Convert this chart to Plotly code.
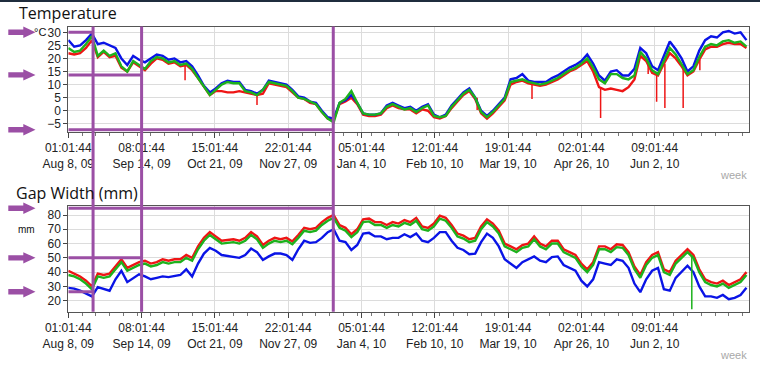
import plotly.graph_objects as go
import pandas as pd

# ---------------- data ----------------
START = pd.Timestamp("2009-08-08 01:01:44")
STEP_DAYS = 3            # sampling step of the value arrays below
END_DAYS = 346.45        # right end of the time axis
TICK_HOURS = 895         # spacing of labelled ticks

tick_labels = ["01:01:44<br>Aug 8, 09", "08:01:44<br>Sep 14, 09", "15:01:44<br>Oct 21, 09",
               "22:01:44<br>Nov 27, 09", "05:01:44<br>Jan 4, 10", "12:01:44<br>Feb 10, 10",
               "19:01:44<br>Mar 19, 10", "02:01:44<br>Apr 26, 10", "09:01:44<br>Jun 2, 10"]

temp_blue = [27, 24.5, 25, 27, 29.5, 25.5, 26, 25, 24, 20,
             17.5, 21, 19.5, 18.5, 20, 21.5, 21, 19.5, 20, 18.5,
             19, 17, 13.5, 9.5, 7, 8.5, 10.5, 11.5, 11, 11,
             8, 7.5, 6.5, 8, 11.5, 11, 10.5, 10, 8, 5.5,
             5, 3.5, 3, 0, -2.5, -3, 3, 4, 6, 3,
             -1, -1.5, -1.5, -1, 2, 3, 2, 1, 1.5, 0,
             1.5, 2.5, -1.5, -2.5, -1.5, 2, 4.5, 7, 8.5, 5,
             0, -2, 0, 2.5, 5, 12, 12.5, 14, 11.5, 11,
             11, 11, 12.5, 13.5, 15, 16.5, 17.5, 19, 21.5, 18,
             13.5, 11.5, 15, 15.5, 13.5, 13.5, 16, 24, 22, 17,
             15.5, 21, 26.5, 23.5, 20, 15, 17, 23, 27, 28.5,
             28, 30, 30.5, 29.5, 30, 27]
temp_green = [24, 22.5, 23, 25.5, 28.5, 21, 23, 21, 22, 17,
              15, 19, 17.5, 16, 19, 20.5, 20, 18.5, 19, 17.5,
              18, 16, 12.5, 9, 6, 8, 10, 11, 10.5, 10.5,
              7.5, 7, 6, 8, 11, 10.5, 10, 9.5, 7.5, 5,
              4.5, 3.5, 2.5, -0.5, -3, -4.5, 3, 4.5, 7.5, 3,
              -1, -1.5, -1.5, -1, 1.5, 2.5, 1.5, 0.5, 1, -0.5,
              1, 2, -2, -2.5, -2, 1.5, 4, 6.5, 8, 5,
              -0.5, -2.5, -0.5, 2, 4.5, 11, 11.5, 12, 11, 10.5,
              10, 10.5, 11.5, 12.5, 14, 15.5, 16.5, 18, 20, 16.5,
              12, 10.5, 14, 14, 12.5, 12, 13.5, 22.5, 20, 15.5,
              14, 19, 24, 21.5, 18, 14, 15.5, 20.5, 24.5, 25.5,
              25, 26.5, 27, 26, 26.5, 24.5]
temp_red = [22, 21.5, 22, 24, 27, 20.5, 22.5, 20.5, 21, 16.5,
            15, 18.5, 17, 15.5, 18, 20, 19.5, 18, 18.5, 17,
            17.5, 15.5, 12.5, 9, 6, 7.5, 7.5, 7, 7, 7.5,
            7, 6.5, 6, 6.5, 10.5, 10, 9.5, 9, 7, 5,
            4.5, 3, 2.5, -0.5, -3, -3.5, 2.5, 3.5, 5, 2.5,
            -1.5, -2, -2, -1.5, 1, 2, 1, 0.5, 0.5, -1,
            0.5, 0, -2.5, -3, -2, 1, 3.5, 6, 7.5, 4.5,
            -1, -3, -1, 1.5, 4, 10, 11, 11.5, 10.5, 10,
            9.5, 10, 11, 12, 13.5, 15, 16, 17.5, 19, 15,
            9, 8, 8.5, 8, 7.5, 9, 12, 21, 19, 14.5,
            13.5, 18, 22, 20, 17, 13.5, 15, 19.5, 23.5, 24.5,
            24.5, 25.5, 26, 25.5, 25.5, 24]
# short downward drops of the red temperature series
temp_red_spike_days = [59.4, 96.0, 208.0, 235.9, 270.8, 295.0, 299.3, 303.5, 312.8, 321.3]
temp_red_spike_top = [18, 6, 5, 10.5, 9, 19, 14, 18, 18, 19.5]
temp_red_spike_low = [11.7, 2.2, 0.3, 4.5, -2.8, 14, 3.4, 1.0, 1.0, 15.5]

gap_green = [38, 37, 35, 32, 28, 37, 36, 37, 42, 47,
             41, 43, 45, 46, 44, 45, 47, 46, 47, 47,
             50, 48, 56, 62, 66, 63, 60, 60.5, 61, 60,
             62, 66, 63, 57, 60, 62, 61, 62, 59.5, 64,
             69, 68, 69, 73, 76, 78, 71, 69, 64.5, 68,
             75, 75.5, 73, 73, 71, 73, 72, 74.5, 73, 76,
             70, 69, 72, 77.5, 76, 71, 65, 63.5, 61, 62,
             70, 75, 72, 67, 58, 56, 54, 57, 58, 63,
             58, 56, 60, 60, 54, 52, 50, 44, 40, 45,
             56, 56, 54, 57.5, 57, 52, 42, 36, 45, 50,
             52, 40, 38, 46, 50, 54, 50, 40, 33, 31,
             30, 32, 29, 31, 33, 38]
gap_blue = [29, 28.5, 27, 25, 23, 29.5, 28, 27, 35, 41,
            33, 36, 38.5, 37, 35, 36, 37, 36.5, 37, 38,
            42, 37, 46, 53, 57, 55, 52, 51.5, 51, 50,
            52, 56.5, 54, 48.5, 51, 53, 53, 52, 48.5, 56,
            62, 60.5, 61, 64, 68, 70, 62, 61, 55.5, 59,
            67, 67.5, 65, 65, 63, 64, 64, 66.5, 64.5, 67,
            62, 61, 64, 68, 68, 62, 57, 55.5, 52.5, 53,
            61, 67, 64, 58, 49, 46, 43, 47, 49, 51,
            48, 47, 50.5, 51, 45, 43, 41, 34, 30, 35,
            47, 46, 45, 49, 48, 43, 32, 26, 35, 41,
            43, 28, 27, 36, 40, 44.5, 40, 30, 23, 23,
            22, 24, 21, 22, 24, 29]
gap_red = [41, 39, 37, 34, 30, 39, 38, 39, 44, 49,
           43, 45, 47, 48, 46, 47, 49, 48, 49, 49,
           52, 50, 58, 64, 68, 65, 62, 62.5, 63, 62,
           64, 68, 65, 59, 62, 64, 63, 64, 61.5, 66,
           71, 70, 71, 75, 78, 80, 73, 71, 66.5, 70,
           77, 77.5, 75, 75, 73, 75, 74, 76.5, 75, 78,
           72, 71, 74, 79.5, 78, 73, 67, 65.5, 63, 64,
           72, 77, 74, 69, 60, 58, 56, 59, 60, 65,
           60, 58, 62, 62, 56, 54, 52, 46, 42, 47,
           58, 58, 56, 59.5, 59, 54, 44, 38, 47, 52,
           54, 42, 40, 48, 52, 56, 52, 42, 35, 33,
           32, 34, 31, 33, 35, 40]
gap_green_spike_day = [317.2]
gap_green_spike_top = [52]
gap_green_spike_low = [14]

# purple markers (days after start, and levels)
marker_days = [12.6, 37.2917, 134.8]
temp_marker_levels = [30, 13.7, -7.3]     # matched to marker_days in order
gap_marker_levels = [26.3, 50, 84.7]

# ---------------- helpers ----------------
W, H = 760, 367
X0_PX, X1_PX = 68.3, 749.3
TOP_PX = (26.5, 131.7)
BOT_PX = (206.0, 311.7)
TEMP_RANGE = [-8.03, 32.22]
GAP_RANGE = [12.3, 86.3]


def day(d):
    return START + pd.Timedelta(days=d)


def py(v, rng, px):
    top, bot = px
    return top + (rng[1] - v) / (rng[1] - rng[0]) * (bot - top)


grid = [day(k * STEP_DAYS) for k in range(len(temp_blue))]
BLUE, RED, GREEN = "#0a14e6", "#ee1515", "#1db21d"
PURPLE = "#9b4fa5"

fig = go.Figure()


def add_series(xa, ya, vals, color, width=2.4):
    fig.add_trace(go.Scatter(x=grid, y=vals, mode="lines", xaxis=xa, yaxis=ya,
                             line=dict(color=color, width=width), hoverinfo="skip",
                             showlegend=False))


def add_spikes(xa, ya, days, tops, lows, color):
    xs, ys = [], []
    for d, t, l in zip(days, tops, lows):
        xs += [day(d), day(d), None]
        ys += [t, l, None]
    fig.add_trace(go.Scatter(x=xs, y=ys, mode="lines", xaxis=xa, yaxis=ya,
                             line=dict(color=color, width=1.5), hoverinfo="skip",
                             showlegend=False))


add_series("x", "y", temp_red, RED)
add_spikes("x", "y", temp_red_spike_days, temp_red_spike_top, temp_red_spike_low, RED)
add_series("x", "y", temp_blue, BLUE)
add_series("x", "y", temp_green, GREEN)

add_series("x2", "y2", gap_red, RED)
add_series("x2", "y2", gap_blue, BLUE)
add_series("x2", "y2", gap_green, GREEN)
add_spikes("x2", "y2", gap_green_spike_day, gap_green_spike_top, gap_green_spike_low, GREEN)

tickvals = [START + pd.Timedelta(hours=TICK_HOURS * i) for i in range(len(tick_labels))]
font = dict(family="Liberation Sans, Arial, sans-serif", size=12, color="#222")

xcommon = dict(type="date", range=[START, day(END_DAYS)], domain=[X0_PX / W, X1_PX / W],
               tickmode="array", tickvals=tickvals, ticktext=tick_labels,
               ticks="outside", ticklen=5, tickcolor="#444", tickfont=font,
               showline=True, linecolor="#555", linewidth=1, mirror=True,
               showgrid=True, gridcolor="#dcdcdc", gridwidth=1, zeroline=False,
               automargin=False,
               minor=dict(ticks="outside", ticklen=3, tickcolor="#777",
                          tick0=START.strftime("%Y-%m-%d %H:%M:%S"),
                          dtick=7 * 86400000, showgrid=False))
ycommon = dict(ticks="outside", ticklen=4, tickcolor="#444", tickfont=font,
               showline=True, linecolor="#555", linewidth=1, mirror=True,
               showgrid=True, gridcolor="#dcdcdc", gridwidth=1, zeroline=False,
               automargin=False)

fig.update_layout(
    width=W, height=H, margin=dict(l=0, r=0, t=0, b=0, autoexpand=False),
    paper_bgcolor="white", plot_bgcolor="white", showlegend=False,
    xaxis=dict(**xcommon, anchor="y"),
    xaxis2=dict(**xcommon, anchor="y2"),
    yaxis=dict(**ycommon, anchor="x", range=TEMP_RANGE, dtick=5, tick0=0,
               domain=[1 - TOP_PX[1] / H, 1 - TOP_PX[0] / H]),
    yaxis2=dict(**ycommon, anchor="x2", range=GAP_RANGE, dtick=10, tick0=0,
                domain=[1 - BOT_PX[1] / H, 1 - BOT_PX[0] / H]),
)

shapes = [dict(type="rect", xref="paper", yref="paper", x0=0, x1=1, y0=1 - 2 / H, y1=1,
               fillcolor="#1f2d3d", line=dict(width=0), layer="above")]
# vertical markers across both panels
for d in marker_days:
    shapes.append(dict(type="line", xref="x", yref="paper", x0=day(d), x1=day(d),
                       y0=1 - BOT_PX[1] / H, y1=1 - TOP_PX[0] / H,
                       line=dict(color=PURPLE, width=3), layer="above"))


def arrow(ypx):
    pts = [(8.3, ypx - 2.7), (23.3, ypx - 2.7), (23.3, ypx - 5.7), (35.5, ypx),
           (23.3, ypx + 5.7), (23.3, ypx + 2.7), (8.3, ypx + 2.7)]
    p = "M " + " L ".join(f"{x / W:.5f},{1 - y / H:.5f}" for x, y in pts) + " Z"
    return dict(type="path", xref="paper", yref="paper", path=p,
                fillcolor=PURPLE, line=dict(width=0), layer="above")


for d, lv in zip(marker_days, temp_marker_levels):
    shapes.append(dict(type="line", xref="x", yref="y", x0=START, x1=day(d), y0=lv, y1=lv,
                       line=dict(color=PURPLE, width=3), layer="above"))
    shapes.append(arrow(py(lv, TEMP_RANGE, TOP_PX)))
for d, lv in zip(marker_days, gap_marker_levels):
    shapes.append(dict(type="line", xref="x2", yref="y2", x0=START, x1=day(d), y0=lv, y1=lv,
                       line=dict(color=PURPLE, width=3), layer="above"))
    shapes.append(arrow(py(lv, GAP_RANGE, BOT_PX)))
fig.update_layout(shapes=shapes)


def ann(text, xpx, ypx, size, color="#111", family="Open Sans, sans-serif", xanchor="left"):
    fig.add_annotation(text=text, x=xpx / W, y=1 - ypx / H, xref="paper", yref="paper",
                       xanchor=xanchor, yanchor="middle", showarrow=False,
                       font=dict(family=family, size=size, color=color))


ann("Temperature", 17, 13, 16)
ann("Gap Width (mm)", 14, 193, 16)
ann("°C", 48, 32, 11, family="Liberation Sans, Arial, sans-serif", xanchor="right")
ann("mm", 16, 229, 10, family="Liberation Sans, Arial, sans-serif")
ann("week", 749, 175, 11, color="#a8a8a8", family="Liberation Sans, Arial, sans-serif",
    xanchor="right")
ann("week", 749, 355, 11, color="#a8a8a8", family="Liberation Sans, Arial, sans-serif",
    xanchor="right")

fig.write_html("out.html", config={"displayModeBar": False},
               post_script="document.body.style.margin='0';")
